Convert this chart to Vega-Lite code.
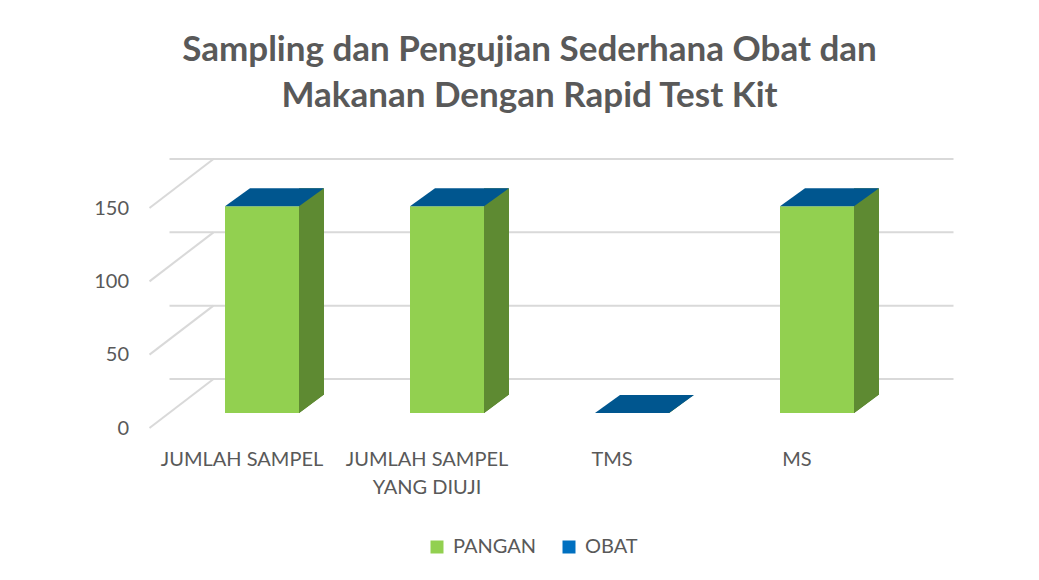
{
  "$schema": "https://vega.github.io/schema/vega-lite/v6.json",
  "width": 740,
  "height": 220,
  "autosize": {"type": "none"},
  "padding": {"left": 169.5, "top": 193, "right": 129.5, "bottom": 167},
  "background": "white",
  "config": {
    "view": {"stroke": null},
    "font": "Lato",
    "axis": {"labelFont": "Lato", "labelColor": "#595959", "labelFontSize": 20}
  },
  "title": {
    "text": ["Sampling dan Pengujian Sederhana Obat dan", "Makanan Dengan Rapid Test Kit"],
    "font": "Lato",
    "fontSize": 35,
    "fontWeight": "bold",
    "color": "#595959",
    "anchor": "middle",
    "lineHeight": 46,
    "offset": 44,
    "dx": -10
  },
  "datasets": {
    "grid": [{"v": 0}, {"v": 50}, {"v": 100}, {"v": 150}],
    "main": [
      {"kategori": "JUMLAH SAMPEL", "jenis": "PANGAN", "nilai": 141},
      {"kategori": "JUMLAH SAMPEL", "jenis": "OBAT", "nilai": 0},
      {"kategori": "JUMLAH SAMPEL YANG DIUJI", "jenis": "PANGAN", "nilai": 141},
      {"kategori": "JUMLAH SAMPEL YANG DIUJI", "jenis": "OBAT", "nilai": 0},
      {"kategori": "TMS", "jenis": "PANGAN", "nilai": 0},
      {"kategori": "TMS", "jenis": "OBAT", "nilai": 0},
      {"kategori": "MS", "jenis": "PANGAN", "nilai": 141},
      {"kategori": "MS", "jenis": "OBAT", "nilai": 0}
    ]
  },
  "layer": [
    {
      "data": {"name": "grid"},
      "mark": {"type": "rule", "color": "#d9d9d9", "strokeWidth": 2, "xOffset": 44, "x2Offset": 44, "yOffset": -34},
      "encoding": {
        "y": {
          "field": "v", "type": "quantitative",
          "scale": {"domain": [0, 150], "nice": false},
          "axis": {
            "title": null, "domain": false, "ticks": false, "grid": false,
            "values": [0, 50, 100, 150], "labelPadding": 41, "labelOffset": 15
          }
        }
      }
    },
    {
      "data": {"name": "grid"},
      "mark": {"type": "rule", "color": "#d9d9d9", "strokeWidth": 2, "xOffset": -20, "yOffset": 15, "x2Offset": 44, "y2Offset": -34},
      "encoding": {
        "x": {"value": 0},
        "x2": {"value": 0},
        "y": {"field": "v", "type": "quantitative"},
        "y2": {"field": "v"}
      }
    },
    {
      "data": {"name": "main"},
      "mark": {"type": "bar"},
      "encoding": {
        "x": {
          "field": "kategori", "type": "nominal",
          "sort": ["JUMLAH SAMPEL", "JUMLAH SAMPEL YANG DIUJI", "TMS", "MS"],
          "scale": {"paddingInner": 0.6, "paddingOuter": 0.3},
          "axis": {
            "title": null, "domain": false, "ticks": false, "labelAngle": 0,
            "labelPadding": 36, "labelOffset": -20, "labelLineHeight": 28, "labelLimit": 0,
            "labelExpr": "datum.label == 'JUMLAH SAMPEL YANG DIUJI' ? ['JUMLAH SAMPEL', 'YANG DIUJI'] : datum.label"
          }
        },
        "y": {"field": "nilai", "type": "quantitative", "aggregate": "sum"},
        "color": {
          "field": "jenis", "type": "nominal",
          "scale": {"domain": ["PANGAN", "OBAT"], "range": ["#92d050", "#0070c0"]},
          "legend": {
            "title": null, "orient": "none", "direction": "horizontal",
            "legendX": 257.5, "legendY": 344,
            "symbolType": "square", "symbolSize": 169, "symbolStrokeWidth": 0,
            "labelFont": "Lato", "labelFontSize": 20, "labelColor": "#595959",
            "labelOffset": 6, "columnPadding": 22
          }
        },
        "order": {"field": "jenis", "sort": "descending"}
      }
    },
    {
      "data": {"name": "main"},
      "mark": {"type": "bar", "color": "#5e8a32", "width": 25, "xOffset": 49.5, "yOffset": -18},
      "encoding": {
        "x": {"field": "kategori", "type": "nominal", "sort": ["JUMLAH SAMPEL", "JUMLAH SAMPEL YANG DIUJI", "TMS", "MS"]},
        "y": {"field": "nilai", "type": "quantitative", "aggregate": "sum"}
      }
    },
    {
      "data": {"name": "main"},
      "mark": {"type": "point", "shape": "M37,0.5 L62.5,0.5 L62.5,-18.5 Z", "size": 4, "filled": true, "color": "white", "opacity": 1, "strokeWidth": 0},
      "encoding": {
        "x": {"field": "kategori", "type": "nominal", "sort": ["JUMLAH SAMPEL", "JUMLAH SAMPEL YANG DIUJI", "TMS", "MS"]},
        "y": {"datum": 0, "type": "quantitative"}
      }
    },
    {
      "data": {"name": "main"},
      "mark": {"type": "point", "shape": "M-37,0 L37,0 L62,-18 L-12,-18 Z", "size": 4, "filled": true, "color": "#00568f", "opacity": 1, "strokeWidth": 0},
      "encoding": {
        "x": {"field": "kategori", "type": "nominal", "sort": ["JUMLAH SAMPEL", "JUMLAH SAMPEL YANG DIUJI", "TMS", "MS"]},
        "y": {"field": "nilai", "type": "quantitative", "aggregate": "sum"}
      }
    }
  ]
}
